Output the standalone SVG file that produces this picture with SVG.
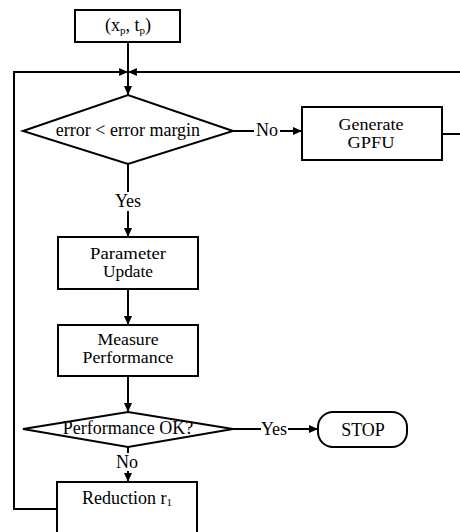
<svg xmlns="http://www.w3.org/2000/svg" width="460" height="532" viewBox="0 0 460 532">
<style>
.s{fill:#fff;stroke:#000;stroke-width:2}
.c{fill:none;stroke:#000;stroke-width:2}
text{font-family:"Liberation Serif","Times New Roman",serif;font-size:18px;fill:#000;text-anchor:middle}
.t2{font-size:16px}
</style>
<defs>
<marker id="ah" markerWidth="10" markerHeight="10" refX="9" refY="5" orient="auto" markerUnits="userSpaceOnUse">
<path d="M0,1 L9,5 L0,9 Z" fill="#000"/>
</marker>
</defs>
<rect width="460" height="532" fill="#fff"/>
<g id="connectors">
<path class="c" d="M128,42 V95" marker-end="url(#ah)"/>
<path class="c" d="M57,509 H14 V72 H128" marker-end="url(#ah)"/>
<path class="c" d="M442,134 H463 V72 H128" marker-end="url(#ah)"/>
<path class="c" d="M233,131 H254"/>
<path class="c" d="M280,131 H302" marker-end="url(#ah)"/>
<path class="c" d="M128,164 V192"/>
<path class="c" d="M128,211 V237" marker-end="url(#ah)"/>
<path class="c" d="M128,289 V325" marker-end="url(#ah)"/>
<path class="c" d="M128,376 V412" marker-end="url(#ah)"/>
<path class="c" d="M233,429 H261"/>
<path class="c" d="M288,429 H318" marker-end="url(#ah)"/>
<path class="c" d="M128,447 V453"/>
<path class="c" d="M128,471 V482" marker-end="url(#ah)"/>
<text x="267" y="136">No</text>
<text x="128" y="207">Yes</text>
<text x="274" y="435">Yes</text>
<text x="127" y="468">No</text>
</g>
<g id="start">
<rect class="s" x="75" y="10" width="105" height="32"/>
<text x="128" y="31" font-size="16">(x<tspan font-size="11" dy="3">p</tspan><tspan dy="-3">, t</tspan><tspan font-size="11" dy="3">p</tspan><tspan dy="-3">)</tspan></text>
</g>
<g id="errorCheck">
<polygon class="s" points="23,131 128,95 233,131 128,164"/>
<text x="128" y="136">error &lt; error margin</text>
</g>
<g id="generate">
<rect class="s" x="302" y="107" width="140" height="53"/>
<text class="t2" x="371" y="130" textLength="65" lengthAdjust="spacingAndGlyphs">Generate</text>
<text class="t2" x="371" y="148" textLength="47" lengthAdjust="spacingAndGlyphs">GPFU</text>
</g>
<g id="paramUpdate">
<rect class="s" x="58" y="237" width="140" height="52"/>
<text class="t2" x="128" y="259" textLength="76" lengthAdjust="spacingAndGlyphs">Parameter</text>
<text class="t2" x="128" y="277" textLength="50" lengthAdjust="spacingAndGlyphs">Update</text>
</g>
<g id="measure">
<rect class="s" x="58" y="325" width="140" height="51"/>
<text class="t2" x="128" y="345" textLength="61" lengthAdjust="spacingAndGlyphs">Measure</text>
<text class="t2" x="128" y="363" textLength="91" lengthAdjust="spacingAndGlyphs">Performance</text>
</g>
<g id="perfCheck">
<polygon class="s" points="23,429 128,412 233,429 128,447"/>
<text x="128" y="434">Performance OK?</text>
</g>
<g id="stop">
<rect class="s" x="318" y="412" width="89" height="35" rx="15" ry="15"/>
<text x="363" y="436" font-size="20">STOP</text>
</g>
<g id="reduction">
<rect class="s" x="57" y="482" width="140" height="60"/>
<text x="127" y="504" font-size="17">Reduction r<tspan font-size="11" dy="2">1</tspan></text>
</g>
</svg>
